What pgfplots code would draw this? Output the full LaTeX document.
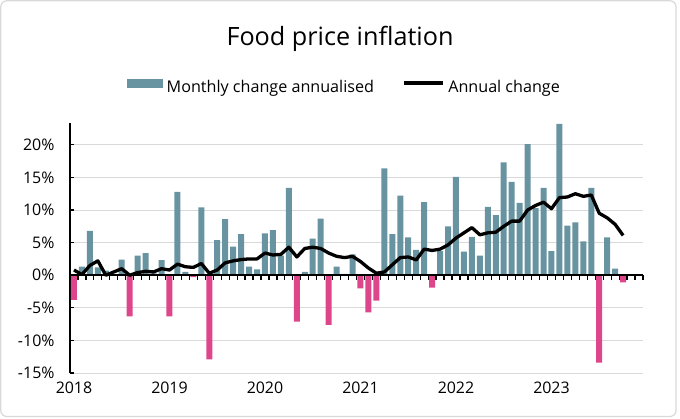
\documentclass[border=0pt]{standalone}
\usepackage{fontspec}
\setmainfont{Open Sans}
\usepackage{pgfplots}
\pgfplotsset{compat=1.18}
\usepackage{pgfplotstable}
\definecolor{barteal}{RGB}{104,147,160}
\definecolor{barpink}{RGB}{222,70,140}
\definecolor{gridgray}{RGB}{217,217,217}

% monthly change annualised, positive months (0 = Jan 2018)
\pgfplotstableread{
x y
1 1.3
2 6.8
3 1.2
4 0.7
5 0.1
6 2.4
8 3.0
9 3.4
10 0.3
11 2.3
13 12.8
14 0.5
16 10.4
18 5.4
19 8.6
20 4.4
21 6.3
22 1.3
23 0.9
24 6.4
25 6.9
26 3.0
27 13.4
29 0.5
30 5.6
31 8.7
33 1.3
34 0.2
35 3.2
39 16.4
40 6.3
41 12.2
42 5.8
43 3.9
44 11.2
46 3.7
47 7.5
48 15.1
49 3.6
50 5.9
51 3.0
52 10.5
53 9.2
54 17.3
55 14.3
56 11.1
57 20.1
58 10.3
59 13.4
60 3.7
61 23.2
62 7.6
63 8.1
64 5.2
65 13.4
67 5.8
68 1.0
}\posdata

% monthly change annualised, negative months
\pgfplotstableread{
x y
0 -3.8
7 -6.3
12 -6.3
15 -0.3
17 -12.9
28 -7.1
32 -7.6
36 -2.0
37 -5.7
38 -3.9
45 -1.9
66 -13.4
69 -1.1
}\negdata

% annual change
\pgfplotstableread{
x y
0 0.8
1 0.1
2 1.5
3 2.2
4 0.0
5 0.5
6 1.0
7 0.0
8 0.4
9 0.6
10 0.5
11 1.0
12 0.8
13 1.7
14 1.3
15 1.2
16 1.8
17 0.3
18 0.8
19 1.9
20 2.2
21 2.4
22 2.5
23 2.5
24 3.4
25 3.1
26 3.2
27 4.3
28 2.8
29 4.1
30 4.3
31 4.1
32 3.4
33 2.9
34 2.7
35 2.9
36 2.1
37 1.1
38 0.3
39 0.5
40 1.6
41 2.7
42 2.8
43 2.35
44 4.0
45 3.8
46 4.0
47 4.65
48 5.7
49 6.5
50 7.3
51 6.2
52 6.5
53 6.6
54 7.5
55 8.3
56 8.3
57 10.0
58 10.7
59 11.2
60 10.2
61 11.9
62 12.0
63 12.5
64 12.1
65 12.3
66 9.5
67 8.8
68 7.8
69 6.1
}\annualdata

\begin{document}
\begin{tikzpicture}[x=1bp,y=1bp]
\path[use as bounding box] (0,0) rectangle (680,418);
\draw[gray!30, line width=1.2bp, rounded corners=6bp] (0.8,1.5) rectangle (676,417.2);
\node[font=\fontsize{25.3}{30}\selectfont, anchor=base, inner sep=0pt] at (340,373) {Food price inflation};

\begin{axis}[
  at={(70bp,45bp)}, anchor=south west,
  scale only axis, width=573bp, height=250bp,
  xmin=-0.5, xmax=71.5, ymin=-15, ymax=23.35,
  axis lines*=left,
  x axis line style={draw=none},
  y axis line style={black, line width=1.5bp, -},
  ytick={-15,-10,...,20},
  yticklabels={-15\%,-10\%,-5\%,0\%,5\%,10\%,15\%,20\%},
  ymajorgrids, grid style={gridgray, line width=1bp},
  xtick={0,12,24,36,48,60},
  xticklabels={2018,2019,2020,2021,2022,2023},
  x tick style={draw=none},
  y tick style={black, line width=1.2bp},
  tick align=inside, major tick length=4bp,
  tick label style={font=\fontsize{16}{19}\selectfont},
  yticklabel style={xshift=-12bp},
  xticklabel style={yshift=-5bp},
  legend style={at={(axis description cs:0.099,1.146)}, anchor=west,
    draw=none, fill=none, inner sep=0pt, outer sep=0pt,
    font=\fontsize{16.2}{19}\selectfont,
    /tikz/every odd column/.append style={column sep=4bp},
    /tikz/every even column/.append style={column sep=28bp},
    nodes={inner sep=0pt}, cells={anchor=west}},
  legend columns=2,
]
\addplot[ybar, bar width=6bp, bar shift=0pt, fill=barteal, draw=none,
  legend image code/.code={\fill[barteal] (0bp,-0.5bp) rectangle (36bp,9bp);}]
  table[x=x,y=y] {\posdata};
\addlegendentry{Monthly change annualised}
\addplot[ybar, bar width=6bp, bar shift=0pt, fill=barpink, draw=none, forget plot]
  table[x=x,y=y] {\negdata};
\addlegendimage{legend image code/.code={\draw[black, line width=3.3bp] (0bp,4.5bp) -- (39bp,4.5bp);}}
\addlegendentry{Annual change}
\end{axis}

\begin{axis}[
  at={(70bp,45bp)}, anchor=south west,
  scale only axis, width=573bp, height=250bp,
  xmin=-0.5, xmax=71.5, ymin=-15, ymax=23.35,
  axis x line=middle, axis y line=none,
  x axis line style={-, black, line width=2bp},
  xtick={-0.5,0.5,...,71.5}, xticklabel=\empty,
  ytick=\empty,
  x tick style={black, line width=1.2bp},
  xtick align=outside, major tick length=4.5bp,
  hide obscured x ticks=false,
  clip=false,
]
\addplot[black, line width=3.3bp, line join=round] table[x=x,y=y] {\annualdata};
\end{axis}
\end{tikzpicture}
\end{document}
